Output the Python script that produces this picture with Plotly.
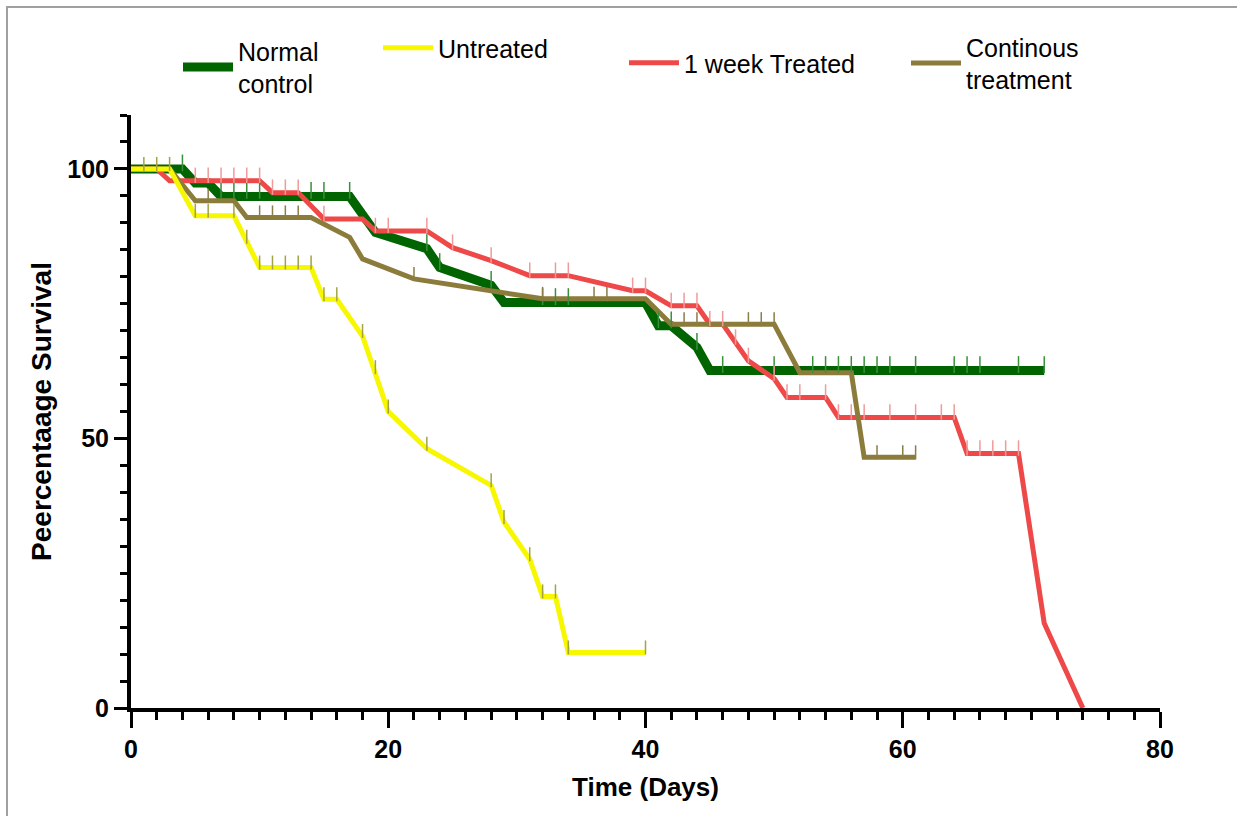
import numpy as np
import plotly.graph_objects as go

# ---- data (Kaplan-Meier style survival curves) ----
series_names = ["Normal<br>control", "Untreated", "1 week Treated", "Continous<br>treatment"]

green_days = [0, 4, 5, 6, 7, 17, 19, 23, 24, 28, 29, 40, 41, 42, 44, 45, 71]
green_surv = [100, 100, 97.4, 97.4, 94.9, 94.9, 88.2, 85.2, 81.7, 78.4, 75.2, 75.2, 70.9, 70.9, 66.9, 62.6, 62.6]
green_censor = [4, 7, 8, 9, 10, 14, 15, 17, 23, 24, 28, 32, 33, 34, 41, 42, 44, 46, 50, 53, 54, 55,
                56, 57, 58, 59, 61, 64, 65, 66, 69, 71]

yellow_days = [0, 3, 5, 8, 10, 14, 15, 16, 18, 19, 20, 23, 28, 29, 31, 32, 33, 34, 40]
yellow_surv = [100, 100, 91.3, 91.3, 81.7, 81.7, 75.8, 75.8, 69.0, 62.3, 55.0, 48.1, 41.3, 34.5, 27.6,
               20.7, 20.7, 10.3, 10.3]
yellow_censor = [1, 2, 3, 5, 6, 8, 9, 10, 11, 12, 13, 14, 15, 16, 18, 19, 20, 23, 28, 29, 31, 32, 33, 34, 40]

red_days = [0, 2, 3, 10, 11, 13, 15, 18, 19, 23, 25, 28, 31, 34, 39, 40, 42, 44, 45, 46, 48, 50, 51,
            54, 55, 64, 65, 69, 71, 74]
red_surv = [100, 100, 97.8, 97.8, 95.6, 95.6, 90.7, 90.7, 88.5, 88.5, 85.4, 83.0, 80.2, 80.2, 77.4,
            77.4, 74.6, 74.6, 71.2, 71.2, 64.4, 61.1, 57.6, 57.6, 53.9, 53.9, 47.2, 47.2, 15.7, 0]
red_censor = [5, 6, 7, 8, 9, 10, 11, 12, 13, 15, 19, 20, 23, 25, 28, 31, 33, 34, 39, 40, 42, 43, 44,
              45, 46, 47, 48, 50, 51, 52, 54, 55, 56, 57, 59, 61, 63, 64, 65, 66, 67, 68, 69]

olive_days = [0, 3, 5, 8, 9, 14, 17, 18, 22, 28, 32, 40, 42, 50, 52, 56, 57, 61]
olive_surv = [100, 100, 94.1, 94.1, 91.0, 91.0, 87.3, 83.3, 79.6, 77.4, 75.9, 75.9, 71.2, 71.2,
              62.2, 62.2, 46.5, 46.5]
olive_censor = [6, 10, 11, 12, 13, 22, 32, 36, 37, 43, 44, 48, 49, 50, 58, 60, 61]

x_ticks = [0, 20, 40, 60, 80]
y_ticks = [0, 50, 100]

# ---- styling ----
FONT = "Liberation Sans, Arial, sans-serif"
W, H = 1237, 816
L, R, T, B = 131, 77, 115, 108
Y_MAX = 110
px_per_unit = (H - T - B) / Y_MAX

series = [
    # name, days, surv, censor, line colour, line width, tick colour, tick size, legend pos
    (series_names[0], green_days, green_surv, green_censor, "#006400", 9, "#3a8f3a", 12, (178, 67)),
    (series_names[2], red_days, red_surv, red_censor, "#ee4848", 5, "#f09a9a", 11, (624, 63)),
    (series_names[3], olive_days, olive_surv, olive_censor, "#8c7c3c", 5, "#8a7d45", 10, (906, 63)),
    (series_names[1], yellow_days, yellow_surv, yellow_censor, "#f7f700", 5, "#a3a345", 10, (378, 48)),
]
legend_ids = {series_names[0]: "legend", series_names[1]: "legend2",
              series_names[2]: "legend3", series_names[3]: "legend4"}

fig = go.Figure()
for name, d, s, c, col, lw, tcol, tsize, _ in series:
    fig.add_trace(go.Scatter(
        x=d, y=s, mode="lines", name=name,
        line=dict(color=col, width=lw),
        cliponaxis=False, showlegend=True, legend=legend_ids[name],
        hoverinfo="skip",
    ))
for name, d, s, c, col, lw, tcol, tsize, _ in series:
    cy = np.interp(c, d, s) + (tsize / 2) / px_per_unit
    fig.add_trace(go.Scatter(
        x=c, y=cy, mode="markers", showlegend=False,
        marker=dict(symbol="line-ns", size=tsize, line=dict(color=tcol, width=1.5)),
        cliponaxis=False, hoverinfo="skip",
    ))

plot_w = W - L - R
plot_h = H - T - B
legends = {}
for name, d, s, c, col, lw, tcol, tsize, (lx, ly) in series:
    legends[legend_ids[name]] = dict(
        x=(lx - L) / plot_w, y=(H - B - ly) / plot_h,
        xanchor="left", yanchor="middle", orientation="v",
        bgcolor="rgba(0,0,0,0)", borderwidth=0, valign="middle",
        itemwidth=50,
        font=dict(family=FONT, size=25, color="black"),
    )

fig.update_layout(
    width=W, height=H,
    margin=dict(l=L, r=R, t=T, b=B),
    paper_bgcolor="white", plot_bgcolor="white",
    font=dict(family=FONT, color="black"),
    **legends,
    xaxis=dict(
        range=[0, 80], tickvals=x_ticks, showgrid=False, zeroline=False,
        showline=True, linecolor="black", linewidth=4,
        ticks="outside", ticklen=16, tickwidth=3, tickcolor="black",
        minor=dict(dtick=2, ticks="outside", ticklen=8, tickwidth=3, tickcolor="black", showgrid=False),
        tickfont=dict(family=FONT, size=25, color="black", weight="bold"),
        title=dict(text="Time (Days)", standoff=17,
                   font=dict(family=FONT, size=26, color="black", weight="bold")),
    ),
    yaxis=dict(
        range=[0, Y_MAX], tickvals=y_ticks, showgrid=False, zeroline=False,
        showline=True, linecolor="black", linewidth=4,
        ticks="outside", ticklen=13, tickwidth=3, tickcolor="black",
        minor=dict(dtick=5, ticks="outside", ticklen=7, tickwidth=3, tickcolor="black", showgrid=False),
        tickfont=dict(family=FONT, size=25, color="black", weight="bold"),
        title=dict(text="Peercentaage Survival", standoff=8,
                   font=dict(family=FONT, size=28, color="black", weight="bold")),
    ),
    shapes=[dict(type="rect", xref="paper", yref="paper",
                 x0=(7 - L) / plot_w, x1=(W + 20 - L) / plot_w,
                 y0=(H - B - (H + 20)) / plot_h, y1=(H - B - 7) / plot_h,
                 line=dict(color="#a0a0a0", width=2), layer="below")],
)

fig.write_html("out.html")
